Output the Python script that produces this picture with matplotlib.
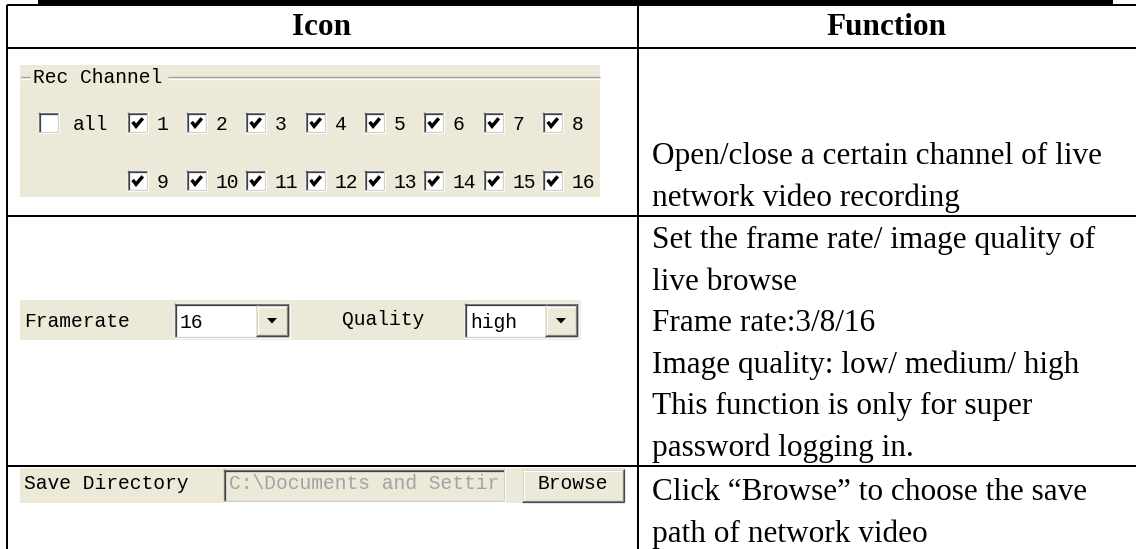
import matplotlib
matplotlib.use("Agg")
import matplotlib.pyplot as plt
from matplotlib.patches import Rectangle, Polygon

# table text
headers = ["Icon", "Function"]
func_rows = [
    ["Open/close a certain channel of live", "network video recording"],
    ["Set the frame rate/ image quality of", "live browse", "Frame rate:3/8/16",
     "Image quality: low/ medium/ high", "This function is only for super",
     "password logging in."],
    ["Click \u201cBrowse\u201d to choose the save", "path of network video"],
]
group_title = "Rec Channel"
channels_top = ["1", "2", "3", "4", "5", "6", "7", "8"]
channels_bottom = ["9", "10", "11", "12", "13", "14", "15", "16"]
all_checked = False
framerate = "16"
quality = "high"
save_label = "Save Directory"
save_path = "C:\\Documents and Settir"
browse = "Browse"

W, H = 1136, 549
BEIGE = "#ece9d8"
MONO = "Liberation Mono"
SERIF = "Liberation Serif"
MS = 14.1

fig = plt.figure(figsize=(W / 100, H / 100), dpi=100)
ax = fig.add_axes([0, 0, 1, 1])
ax.set_xlim(0, W)
ax.set_ylim(H, 0)
ax.axis("off")


def hline(x0, x1, y, c="black", lw=1.44):
    ax.plot([x0, x1], [y, y], color=c, lw=lw, solid_capstyle="butt")


def vline(x, y0, y1, c="black", lw=1.44):
    ax.plot([x, x], [y0, y1], color=c, lw=lw, solid_capstyle="butt")


def sunken(x0, y0, x1, y1, fill="white"):
    ax.add_patch(Rectangle((x0, y0), x1 - x0, y1 - y0, color=fill, lw=0))
    hline(x0, x1, y0 + 0.5, "#808080", 0.9)
    vline(x0 + 0.5, y0, y1, "#808080", 0.9)
    hline(x0 + 1, x1 - 1, y0 + 1.5, "#404040", 0.9)
    vline(x0 + 1.5, y0 + 1, y1 - 1, "#404040", 0.9)
    hline(x0, x1, y1 - 0.5, "white", 0.9)
    vline(x1 - 0.5, y0, y1, "white", 0.9)
    hline(x0 + 1, x1 - 1, y1 - 1.5, "#d4d0c8", 0.9)
    vline(x1 - 1.5, y0 + 1, y1 - 1, "#d4d0c8", 0.9)


def raised(x0, y0, x1, y1, fill=BEIGE):
    ax.add_patch(Rectangle((x0, y0), x1 - x0, y1 - y0, color=fill, lw=0))
    hline(x0, x1, y0 + 0.5, "#d4d0c8", 0.9)
    vline(x0 + 0.5, y0, y1, "#d4d0c8", 0.9)
    hline(x0 + 1, x1 - 1, y0 + 1.5, "white", 0.9)
    vline(x0 + 1.5, y0 + 1, y1 - 1, "white", 0.9)
    hline(x0, x1, y1 - 0.5, "#404040", 0.9)
    vline(x1 - 0.5, y0, y1, "#404040", 0.9)
    hline(x0 + 1, x1 - 1, y1 - 1.5, "#808080", 0.9)
    vline(x1 - 1.5, y0 + 1, y1 - 1, "#808080", 0.9)


def checkbox(x, y, checked, s=21):
    sunken(x, y, x + s, y + s)
    if checked:
        ax.plot([x + s * 0.27, x + s * 0.43, x + s * 0.75],
                [y + s * 0.47, y + s * 0.68, y + s * 0.3],
                color="black", lw=2.5, solid_capstyle="butt",
                solid_joinstyle="miter")


def combo(x0, y0, x1, y1, value):
    sunken(x0, y0, x1, y1)
    bx0 = x1 - 34
    raised(bx0, y0 + 2, x1 - 2, y1 - 2)
    cx, cy = (bx0 + x1 - 2) / 2, (y0 + y1) / 2
    ax.add_patch(Polygon([[cx - 5, cy - 2.5], [cx + 5, cy - 2.5], [cx, cy + 3]],
                         closed=True, color="black", lw=0))
    ax.text(x0 + 6, y1 - 10, value, family=MONO, fontsize=MS, va="baseline")


# ---- UI panel 1: record channels
ax.add_patch(Rectangle((20, 65), 580, 132, color=BEIGE, lw=0))
hline(21, 30, 77, "#a0a0a0", 1.0)
hline(21, 30, 78.5, "white", 1.0)
hline(168, 600, 77, "#a0a0a0", 1.0)
hline(168, 600, 78.5, "white", 1.0)
ax.text(33, 83, group_title, family=MONO, fontsize=MS, va="baseline")

col_x = [127, 186, 245, 305, 364, 423, 483, 542]
checkbox(38, 112, all_checked)
ax.text(73, 130, "all", family=MONO, fontsize=MS, va="baseline")
for i, lab in enumerate(channels_top):
    checkbox(col_x[i], 112, True)
    ax.text(col_x[i] + 30, 130, lab, family=MONO, fontsize=MS, va="baseline")
for i, lab in enumerate(channels_bottom):
    checkbox(col_x[i], 170, True)
    ax.text(col_x[i] + 30, 188, lab, family=MONO, fontsize=MS, va="baseline")

# ---- UI panel 2: framerate / quality
ax.add_patch(Rectangle((20, 300), 561, 40, color=BEIGE, lw=0))
ax.text(24, 327, "Framerate", family=MONO, fontsize=MS, va="baseline")
combo(174, 303, 290, 338, framerate)
ax.text(342, 325, "Quality", family=MONO, fontsize=MS, va="baseline")
combo(464, 303, 579, 338, quality)

# ---- UI panel 3: save directory
ax.add_patch(Rectangle((20, 468), 605, 35, color=BEIGE, lw=0))
ax.text(24, 489, save_label, family=MONO, fontsize=MS, va="baseline")
sunken(223, 469, 505, 502, fill=BEIGE)
ax.text(229, 489, save_path, family=MONO, fontsize=MS, va="baseline",
        color="#a3a3a3")
raised(522, 469, 624, 502)
ax.text(573, 489, browse, family=MONO, fontsize=MS, va="baseline",
        ha="center")

# ---- table grid
ax.add_patch(Rectangle((38, 0), 1075, 5, color="black", lw=0))
hline(7, W, 5)
hline(7, W, 48)
hline(7, W, 216)
hline(7, W, 466)
vline(7, 5, H)
vline(638, 5, H)

# ---- header and function text
ax.text(322, 35, headers[0], family=SERIF, fontsize=22.5, fontweight="bold",
        ha="center", va="baseline")
ax.text(887, 35, headers[1], family=SERIF, fontsize=22.5, fontweight="bold",
        ha="center", va="baseline")

row_first = [164, 248, 500]
for lines, y0 in zip(func_rows, row_first):
    for k, s in enumerate(lines):
        ax.text(652, y0 + k * 41.6, s, family=SERIF, fontsize=22.5,
                va="baseline")

fig.savefig("out.png", dpi=100)
